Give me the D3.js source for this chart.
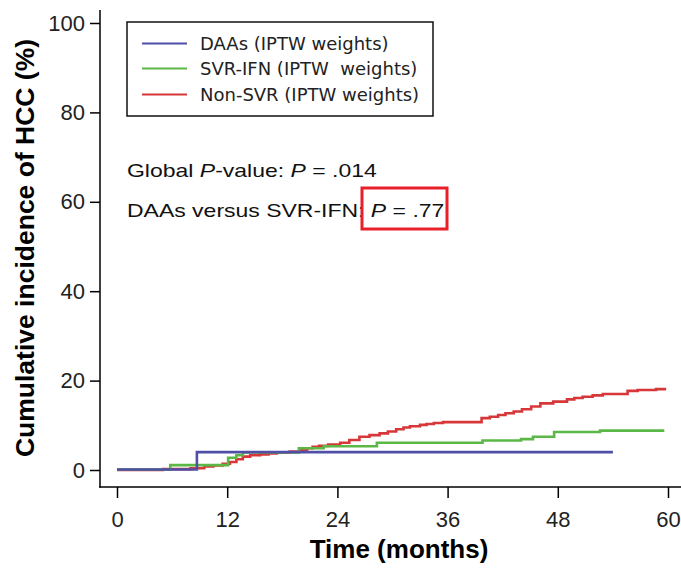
<!DOCTYPE html>
<html>
<head>
<meta charset="utf-8">
<script src="https://cdn.jsdelivr.net/npm/d3@7"></script>
<style>
  html, body { margin: 0; padding: 0; background: #fff; }
  svg { display: block; }
  text { white-space: pre; }
</style>
</head>
<body>
<div id="chart"></div>
<script>
// ---- data ----
const xTicks = [0, 12, 24, 36, 48, 60];
const yTicks = [0, 20, 40, 60, 80, 100];

const seriesNames = ["DAAs (IPTW weights)", "SVR-IFN (IPTW  weights)", "Non-SVR (IPTW weights)"];
const seriesColors = ["#4f4fa8", "#5cb846", "#d8373a"];

const daasTime  = [0, 8.7, 54.0];
const daasValue = [0.1, 4.0, 4.0];

const svrTime  = [0, 5.8, 12.1, 13.0, 13.7, 19.8, 22.5, 28.3, 39.8, 44.0, 45.3, 47.6, 52.6, 59.6];
const svrValue = [0.1, 1.1, 2.75, 3.3, 3.9, 4.85, 5.3, 6.1, 6.6, 6.9, 7.45, 8.5, 8.8, 8.8];

const nonTime  = [0, 5.0, 8.0, 9.5, 10.5, 11.5, 12.3, 13.0, 13.7, 14.5, 15.6, 16.5, 17.4, 18.8, 19.9,
                  20.7, 21.3, 22.0, 23.0, 24.3, 25.3, 26.4, 27.5, 28.6, 29.5, 30.4, 31.2, 31.9, 33.0,
                  33.7, 34.5, 35.5, 39.7, 40.6, 41.5, 42.3, 43.2, 44.1, 45.1, 46.1, 47.5, 49.0, 49.8,
                  50.7, 51.8, 52.9, 55.6, 56.7, 58.7, 59.8];
const nonValue = [0, 0.2, 0.4, 0.8, 1.0, 1.4, 1.8, 2.4, 3.0, 3.3, 3.5, 3.7, 3.9, 4.1, 4.5,
                  4.85, 5.2, 5.4, 5.7, 6.1, 6.7, 7.45, 7.8, 8.2, 8.6, 9.1, 9.5, 9.8, 10.1,
                  10.3, 10.5, 10.7, 11.6, 11.9, 12.3, 12.7, 13.1, 13.6, 14.2, 14.9, 15.3, 15.8, 16.1,
                  16.4, 16.7, 17.0, 17.7, 17.9, 18.1, 18.1];

const annot1 = [{t: "Global ", i: false}, {t: "P", i: true}, {t: "-value: ", i: false}, {t: "P", i: true}, {t: " = .014", i: false}];
const annot2 = [{t: "DAAs versus SVR-IFN: ", i: false}, {t: "P", i: true}, {t: " = .77", i: false}];

// ---- drawing ----
const W = 681, H = 568;
const svg = d3.select("#chart").append("svg").attr("width", W).attr("height", H);

const x = d3.scaleLinear().domain([0, 60]).range([117, 668]);
const y = d3.scaleLinear().domain([0, 100]).range([470, 23]);

const tickFont = "'Liberation Sans', Arial, sans-serif";
const legendFont = "'DejaVu Sans', sans-serif";
const axisX0 = 100, axisY0 = 487;

// L-shaped axis lines
svg.append("line").attr("x1", axisX0).attr("x2", axisX0).attr("y1", 10).attr("y2", axisY0 + 0.75)
  .attr("stroke", "#000").attr("stroke-width", 1.5);
svg.append("line").attr("x1", axisX0 - 0.75).attr("x2", W).attr("y1", axisY0).attr("y2", axisY0)
  .attr("stroke", "#000").attr("stroke-width", 1.5);

// y axis
const gy = svg.append("g").attr("transform", `translate(${axisX0},0)`)
  .call(d3.axisLeft(y).tickValues(yTicks).tickSize(10).tickPadding(5));
gy.select(".domain").remove();
gy.selectAll(".tick line").attr("stroke", "#000").attr("stroke-width", 1.5);
gy.selectAll(".tick text").attr("font-family", tickFont).attr("font-size", 22).attr("fill", "#222");

// x axis
const gx = svg.append("g").attr("transform", `translate(0,${axisY0})`)
  .call(d3.axisBottom(x).tickValues(xTicks).tickSize(11).tickPadding(13));
gx.select(".domain").remove();
gx.selectAll(".tick line").attr("stroke", "#000").attr("stroke-width", 1.5);
gx.selectAll(".tick text").attr("font-family", tickFont).attr("font-size", 22).attr("fill", "#222");

// axis titles
svg.append("text").attr("x", 399).attr("y", 558).attr("text-anchor", "middle")
  .attr("font-family", "'Liberation Sans', Arial, sans-serif").attr("font-weight", "bold")
  .attr("font-size", 26).attr("fill", "#000").text("Time (months)");
svg.append("text").attr("transform", "translate(34,248) rotate(-90)").attr("text-anchor", "middle")
  .attr("font-family", "'Liberation Sans', Arial, sans-serif").attr("font-weight", "bold")
  .attr("font-size", 26.5).attr("fill", "#000").text("Cumulative incidence of HCC (%)");

// curves
const series = [
  {t: daasTime, v: daasValue},
  {t: svrTime, v: svrValue},
  {t: nonTime, v: nonValue}
];
const line = d3.line().x(d => x(d[0])).y(d => y(d[1])).curve(d3.curveStepAfter);
// draw red first, then green, then blue on top (as in reference)
[2, 1, 0].forEach(i => {
  const pts = series[i].t.map((t, k) => [t, series[i].v[k]]);
  svg.append("path").attr("d", line(pts)).attr("fill", "none")
    .attr("stroke", seriesColors[i]).attr("stroke-width", 2.6);
});

// legend
const lg = svg.append("g");
lg.append("rect").attr("x", 127).attr("y", 22).attr("width", 306).attr("height", 94)
  .attr("fill", "#fff").attr("stroke", "#111").attr("stroke-width", 1.5);
const rowsY = [43.5, 68.5, 94.5];
seriesNames.forEach((name, i) => {
  lg.append("line").attr("x1", 142).attr("x2", 187).attr("y1", rowsY[i]).attr("y2", rowsY[i])
    .attr("stroke", seriesColors[i]).attr("stroke-width", 2);
  lg.append("text").attr("x", 200).attr("y", rowsY[i] + 6.8)
    .attr("font-family", legendFont).attr("font-size", 18).attr("fill", "#222").text(name);
});

// annotations
function annot(parts, ty) {
  const t = svg.append("text").attr("transform", `translate(127,${ty}) scale(1.21,1)`)
    .attr("font-family", "'Liberation Sans', Arial, sans-serif").attr("font-size", 19).attr("fill", "#111");
  parts.forEach(p => {
    t.append("tspan").attr("font-style", p.i ? "italic" : "normal").text(p.t);
  });
}
annot(annot1, 177);
annot(annot2, 217);

svg.append("rect").attr("x", 362).attr("y", 188).attr("width", 85).attr("height", 41)
  .attr("fill", "none").attr("stroke", "#e8202a").attr("stroke-width", 3);
</script>
</body>
</html>
